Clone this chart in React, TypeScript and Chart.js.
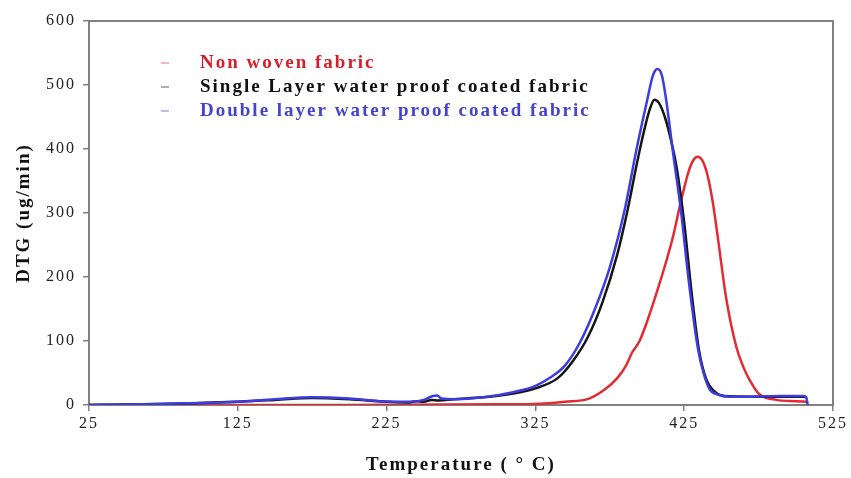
import React, { useEffect, useRef } from "react";
import { Chart, registerables } from "chart.js";

Chart.register(...registerables);

const tempTicks = [25, 125, 225, 325, 425, 525];
const dtgTicks = [0, 100, 200, 300, 400, 500, 600];

const seriesLabels = [
  "Non woven fabric",
  "Single Layer water proof coated fabric",
  "Double layer water proof coated fabric",
];

const nonWovenTemp = [25, 100, 200, 300, 328, 345, 361, 372, 380, 386, 390, 395, 400, 406, 413, 418, 422, 428, 431, 434, 437, 440, 444, 448, 453, 460, 465, 469, 475, 487, 500, 507];
const nonWovenDTG = [0, 0, 0, 1, 2, 5, 10, 25, 42, 62, 82, 100, 130, 172, 225, 268, 310, 365, 382, 388, 383, 365, 320, 255, 170, 91, 58, 39, 18, 8, 6, 5];

const singleTemp = [25, 60, 100, 150, 175, 200, 225, 240, 245, 250, 255, 260, 270, 290, 310, 325, 340, 350, 360, 370, 380, 387, 393, 398, 402, 405, 408, 412, 416, 420, 425, 430, 435, 440, 445, 452, 470, 490, 505, 507];
const singleDTG = [0, 1, 3, 8, 11, 9, 5, 4, 6, 5, 8, 7, 9, 12, 18, 26, 42, 68, 105, 160, 235, 305, 375, 428, 463, 477, 472, 450, 415, 370, 285, 175, 85, 39, 22, 14, 13, 13, 13, 12];

const doubleTemp = [25, 60, 100, 125, 150, 175, 200, 220, 240, 250, 256, 259, 262, 270, 290, 310, 325, 335, 345, 355, 365, 375, 385, 393, 400, 404, 407, 410, 413, 417, 423, 428, 434, 438, 442, 448, 455, 470, 490, 505, 507, 508];
const doubleDTG = [0, 1, 3, 5, 9, 12, 10, 6, 5, 8, 14, 15, 10, 9, 12, 20, 30, 43, 62, 98, 150, 215, 305, 400, 475, 515, 525, 515, 475, 403, 300, 195, 91, 50, 25, 16, 13, 13, 14, 14, 12, 0];

const lineColors = ["#e32b33", "#151515", "#3c3ce0"];
const textColors = ["#d81e2a", "#111111", "#4444cc"];

const SERIF = "'Liberation Serif', 'Times New Roman', serif";

const toPoints = (xs: number[], ys: number[]) => xs.map((x, i) => ({ x, y: ys[i] }));

const spacingPlugin = {
  id: "spacing",
  beforeUpdate(chart: any) {
    chart.ctx.letterSpacing = "2px";
  },
  beforeDraw(chart: any) {
    chart.ctx.letterSpacing = "2px";
  },
};

const framePlugin = {
  id: "frame",
  afterDraw(chart: any) {
    const { ctx, chartArea } = chart;
    const { left, top, right, bottom } = chartArea;
    ctx.save();
    ctx.strokeStyle = "#808080";
    ctx.lineWidth = 2;
    ctx.beginPath();
    ctx.moveTo(left - 1, top);
    ctx.lineTo(right, top);
    ctx.lineTo(right, bottom + 1);
    ctx.stroke();

    // legend inside plot area
    ctx.letterSpacing = "2px";
    ctx.font = `bold 19px ${SERIF}`;
    ctx.textBaseline = "middle";
    ctx.textAlign = "left";
    const ys = [63, 87, 111];
    chart.data.datasets.forEach((ds: any, i: number) => {
      const y = ys[i];
      ctx.strokeStyle = ds.borderColor;
      ctx.globalAlpha = 0.45;
      ctx.lineWidth = 1.5;
      ctx.beginPath();
      ctx.moveTo(161, y);
      ctx.lineTo(169, y);
      ctx.stroke();
      ctx.globalAlpha = 1;
      ctx.fillStyle = textColors[i];
      ctx.fillText(ds.label, 200, y);
    });
    ctx.restore();
  },
};

export default function App() {
  const canvasRef = useRef<HTMLCanvasElement | null>(null);

  useEffect(() => {
    if (!canvasRef.current) return;
    const mk = (i: number, xs: number[], ys: number[], order: number) => ({
      label: seriesLabels[i],
      data: toPoints(xs, ys),
      borderColor: lineColors[i],
      backgroundColor: lineColors[i],
      borderWidth: 2.5,
      pointRadius: 0,
      fill: false,
      cubicInterpolationMode: "monotone" as const,
      order,
    });
    const chart = new Chart(canvasRef.current, {
      type: "line",
      data: {
        datasets: [
          mk(0, nonWovenTemp, nonWovenDTG, 2),
          mk(1, singleTemp, singleDTG, 1),
          mk(2, doubleTemp, doubleDTG, 0),
        ],
      },
      options: {
        animation: false,
        responsive: false,
        devicePixelRatio: 1,
        layout: { padding: { top: 21, right: 17, left: 0, bottom: 0 } },
        plugins: { legend: { display: false }, tooltip: { enabled: false } },
        scales: {
          x: {
            type: "linear",
            min: 25,
            max: 525,
            afterBuildTicks: (s: any) => {
              s.ticks = tempTicks.map((v) => ({ value: v }));
            },
            afterFit: (s: any) => {
              s.height = 73;
            },
            grid: { drawOnChartArea: false, tickLength: 6, color: "#808080", lineWidth: 1.5 },
            border: { color: "#808080", width: 2 },
            ticks: { font: { family: SERIF, size: 16 }, color: "#222", padding: 3, maxRotation: 0 },
            title: {
              display: true,
              text: "Temperature ( ° C)",
              font: { family: SERIF, size: 19, weight: "bold" },
              color: "#111",
              padding: { top: 0, bottom: 2 },
            },
          },
          y: {
            type: "linear",
            min: 0,
            max: 600,
            afterBuildTicks: (s: any) => {
              s.ticks = dtgTicks.map((v) => ({ value: v }));
            },
            afterFit: (s: any) => {
              s.width = 89;
            },
            grid: { drawOnChartArea: false, tickLength: 6, color: "#808080", lineWidth: 1.5 },
            border: { color: "#808080", width: 2 },
            ticks: { font: { family: SERIF, size: 16 }, color: "#222", padding: 7 },
            title: {
              display: true,
              text: "DTG (ug/min)",
              font: { family: SERIF, size: 19, weight: "bold" },
              color: "#111",
              padding: { top: 13, bottom: 0 },
            },
          },
        },
      },
      plugins: [spacingPlugin, framePlugin],
    });
    return () => chart.destroy();
  }, []);

  return (
    <div style={{ position: "absolute", left: 0, top: 0, width: 851, height: 478, background: "#fff" }}>
      <canvas ref={canvasRef} width={851} height={478} style={{ display: "block" }} />
    </div>
  );
}
